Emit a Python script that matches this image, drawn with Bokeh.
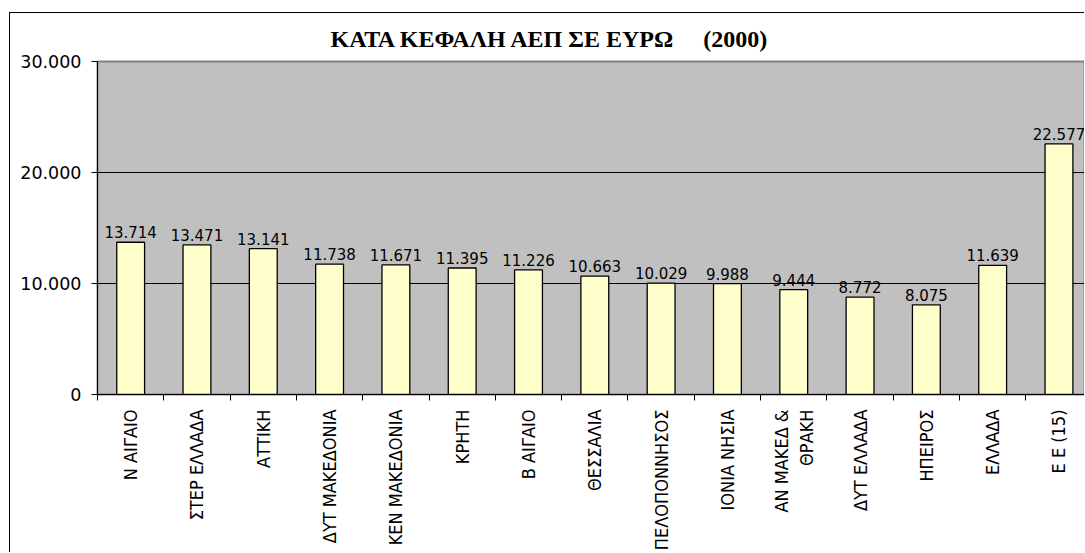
import numpy as np
from bokeh.plotting import figure
from bokeh.models import Range1d, FixedTicker, ColumnDataSource, CustomJSTickFormatter
from bokeh.core.properties import value
from bokeh.embed import file_html
from bokeh.resources import INLINE

# ---- data ----
regions = ["Ν ΑΙΓΑΙΟ", "ΣΤΕΡ ΕΛΛΑΔΑ", "ΑΤΤΙΚΗ", "ΔΥΤ ΜΑΚΕΔΟΝΙΑ", "ΚΕΝ ΜΑΚΕΔΟΝΙΑ",
           "ΚΡΗΤΗ", "Β ΑΙΓΑΙΟ", "ΘΕΣΣΑΛΙΑ", "ΠΕΛΟΠΟΝΝΗΣΟΣ", "ΙΟΝΙΑ ΝΗΣΙΑ",
           "ΑΝ ΜΑΚΕΔ &\nΘΡΑΚΗ", "ΔΥΤ ΕΛΛΑΔΑ", "ΗΠΕΙΡΟΣ", "ΕΛΛΑΔΑ", "Ε Ε (15)"]
gdp_per_capita = [13714, 13471, 13141, 11738, 11671, 11395, 11226, 10663,
                  10029, 9988, 9444, 8772, 8075, 11639, 22577]
y_ticks = [0, 10000, 20000, 30000]
y_tick_labels = ["0", "10.000", "20.000", "30.000"]
title_text = "ΚΑΤΑ ΚΕΦΑΛΗ ΑΕΠ ΣΕ ΕΥΡΩ \u00a0\u00a0\u00a0\u00a0(2000)"

n = len(regions)
centers = [i + 0.5 for i in range(n)]
bounds = [float(i) for i in range(n + 1)]
value_labels = [f"{v:,}".replace(",", ".") for v in gdp_per_capita]

src = ColumnDataSource(dict(x=centers, top=gdp_per_capita, lab=value_labels))

p = figure(width=1075, height=540, output_backend="svg", toolbar_location=None,
           x_range=Range1d(0, 14.9), y_range=Range1d(0, 30000),
           min_border_left=87, min_border_top=48, min_border_bottom=157,
           min_border_right=0,
           margin=(12, 0, 0, 9),
           styles={"border-left": "1px solid black", "border-top": "1px solid black"})

p.background_fill_color = "#C0C0C0"
p.border_fill_color = "white"
p.outline_line_color = "#808080"
p.outline_line_width = 2

# title
p.title.text = title_text
p.title.text_font = "Liberation Serif"
p.title.text_font_style = "bold"
p.title.text_font_size = "24px"
p.title.text_color = "black"
p.title.align = "left"
p.title.vertical_align = "middle"
p.title.offset = 233
p.title.standoff = 18

# bars
p.vbar(x="x", top="top", width=0.42, source=src, fill_color="#FFFFCC",
       line_color="black", line_width=1.3)

# value labels
p.text(x="x", y="top", text="lab", source=src, text_align="center",
       text_baseline="bottom", y_offset=-4,
       text_font=value("DejaVu Sans"), text_font_size="15px", text_color="black")

# y axis
yax = p.yaxis[0]
yax.ticker = FixedTicker(ticks=y_ticks)
yax.major_label_overrides = {t: l for t, l in zip(y_ticks, y_tick_labels)}
yax.major_label_text_font = "DejaVu Sans"
yax.major_label_text_font_size = "17.5px"
yax.major_label_text_color = "black"
yax.major_tick_out = 6
yax.major_tick_in = 0
yax.minor_tick_line_color = None
yax.axis_line_color = "black"
yax.major_tick_line_color = "black"
yax.major_label_standoff = 10

# x axis: labels at category centres, ticks at category boundaries
xax = p.xaxis[0]
xax.ticker = FixedTicker(ticks=centers, minor_ticks=bounds)
xax.formatter = CustomJSTickFormatter(args=dict(labels=regions),
                                      code="return labels[Math.floor(tick)] || '';")
xax.major_tick_line_color = None
xax.major_tick_out = 0
xax.major_tick_in = 0
xax.minor_tick_line_color = "black"
xax.minor_tick_out = 6
xax.minor_tick_in = 0
xax.major_label_orientation = np.pi / 2
xax.major_label_standoff = 9
xax.major_label_text_font = "DejaVu Sans Condensed"
xax.major_label_text_font_size = "18px"
xax.major_label_text_color = "black"
xax.axis_line_color = "black"

# grid
p.xgrid.grid_line_color = None
p.ygrid.ticker = FixedTicker(ticks=y_ticks[1:-1])
p.ygrid.grid_line_color = "black"
p.ygrid.grid_line_width = 1

open("out.html", "w").write(file_html(p, INLINE))
